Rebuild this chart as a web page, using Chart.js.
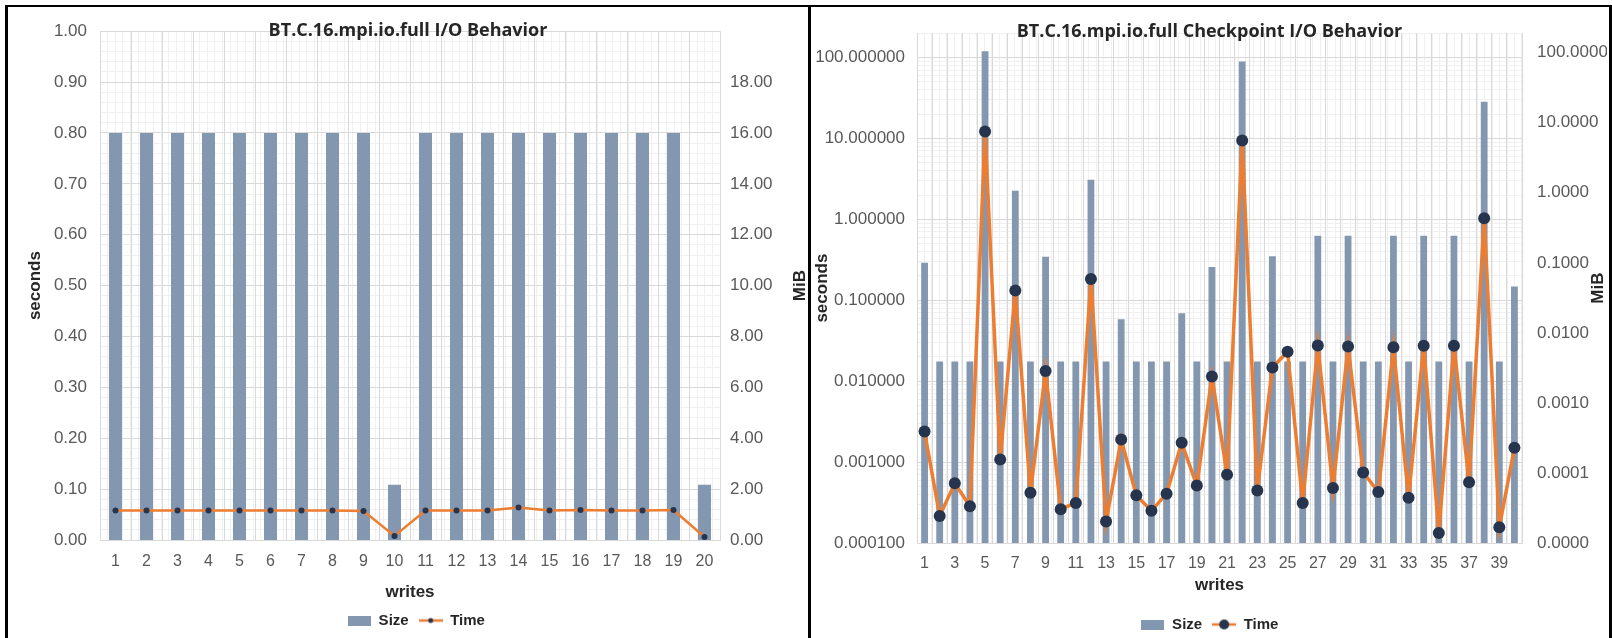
<!DOCTYPE html>
<html>
<head>
<meta charset="utf-8">
<script src="https://cdn.jsdelivr.net/npm/chart.js@4.4.1/dist/chart.umd.min.js"></script>
<style>
body { margin: 0; width: 1612px; height: 638px; overflow: hidden; background: #fff; position: relative; }
#frame { position: absolute; left: 5px; top: 5px; width: 1601px; height: 660px; border: 3px solid #000; border-top-width: 2px; }
#divider { position: absolute; left: 808px; top: 5px; width: 3px; height: 640px; background: #000; }
#c1 { position: absolute; left: 9px; top: 8px; }
#c2 { position: absolute; left: 812px; top: 8px; }
</style>
</head>
<body>
<div id="frame"></div>
<div id="divider"></div>
<canvas id="c1" width="798" height="630"></canvas>
<canvas id="c2" width="795" height="634"></canvas>
<script>

// ---------- DATA ----------

// left chart: BT.C.16.mpi.io.full I/O Behavior
const ioWrites = ["1","2","3","4","5","6","7","8","9","10","11","12","13","14","15","16","17","18","19","20"];
const ioSize = [16,16,16,16,16,16,16,16,16,2.17,16,16,16,16,16,16,16,16,16,2.17];
const ioTime = [0.058,0.058,0.058,0.058,0.058,0.058,0.058,0.058,0.057,0.008,0.058,0.058,0.058,0.064,0.058,0.059,0.058,0.058,0.059,0.006];

// right chart: BT.C.16.mpi.io.full Checkpoint I/O Behavior
const cpWrites = ["1","2","3","4","5","6","7","8","9","10","11","12","13","14","15","16","17","18","19","20",
                  "21","22","23","24","25","26","27","28","29","30","31","32","33","34","35","36","37","38","39","40"];
const cpSize = [0.1,0.0039,0.0039,0.0039,105,0.0039,1.07,0.0039,0.122,0.0039,
                0.0039,1.53,0.0039,0.0156,0.0039,0.0039,0.0039,0.019,0.0039,0.087,
                0.0039,75,0.0039,0.124,0.0039,0.0039,0.244,0.0039,0.244,0.0039,
                0.0039,0.244,0.0039,0.244,0.0039,0.244,0.0039,20,0.0039,0.046];
const cpTime = [0.00239,0.000216,0.000548,0.000285,12.2,0.00108,0.132,0.000418,0.0134,0.000262,
                0.000313,0.183,0.000184,0.0019,0.000388,0.00025,0.000407,0.00173,0.000514,0.0114,
                0.0007,9.45,0.000447,0.0148,0.0231,0.000313,0.0277,0.000477,0.0268,0.000745,
                0.000426,0.0262,0.000363,0.0275,0.000133,0.0275,0.000564,1.03,0.000157,0.0015];

const cpSecTicks = [0.0001,0.001,0.01,0.1,1,10,100];
const cpMibTicks = [0.00001,0.0001,0.001,0.01,0.1,1,10,100];


// ---------- STYLE ----------

const barColor = "#8497b0";
const lineColor = "#ed7d31";
const dotColor = "#26354d";
const gridMajor = "#d9d9d9";
const gridMinor = "#f0f0f0";
const tickColor = "#595959";
const labelColor = "#262626";
const FONT = "'Liberation Sans', Arial, sans-serif";


// legend icons (wide swatch and line with dot)
function makeSwatch(){
let c = document.createElement("canvas");
c.width = 23; c.height = 10;
let g = c.getContext("2d");
g.fillStyle = barColor;
g.fillRect(0, 0, 23, 10);
return c;
}

function makeLineIcon(r){
let c = document.createElement("canvas");
c.width = 24; c.height = 14;
let g = c.getContext("2d");
g.strokeStyle = lineColor;
g.lineWidth = 2.5;
g.beginPath(); g.moveTo(0, 7); g.lineTo(24, 7); g.stroke();
g.fillStyle = dotColor;
g.beginPath(); g.arc(12, 7, r, 0, Math.PI * 2); g.fill();
return c;
}

function legendOptions(lineIcon){
const swatch = makeSwatch();
return {
position: "bottom",
labels: {
usePointStyle: true,
pointStyleWidth: 24,
padding: 10,
color: labelColor,
font: { family: FONT, size: 15, weight: "bold" },
sort: (a, b) => a.datasetIndex - b.datasetIndex,
generateLabels(chart){
const items = Chart.defaults.plugins.legend.labels.generateLabels(chart);
items.forEach(it => { it.pointStyle = it.datasetIndex === 0 ? swatch : lineIcon; });
return items;
}
}
};
}


// chart title and rotated right-axis title drawn over the plot
const panelText = {
id: "panelText",
afterDraw(chart, args, opts){
const ctx = chart.ctx;
const area = chart.chartArea;
ctx.save();
ctx.fillStyle = labelColor;
ctx.textAlign = "center";
ctx.textBaseline = "middle";
ctx.font = "bold 18px 'Open Sans', sans-serif";
ctx.fillText(opts.title, chart.width / 2, opts.titleY);
ctx.font = "bold 17px " + FONT;
ctx.translate(opts.unitX, (area.top + area.bottom) / 2);
ctx.rotate(-Math.PI / 2);
ctx.fillText("MiB", 0, 0);
ctx.restore();
}
};

function decades(list){
return function(scale){ scale.ticks = list.map(v => ({ value: v })); };
}

function minorLog(min, max){
return function(scale){
let t = [];
for (let e = Math.floor(Math.log10(min)); e <= Math.ceil(Math.log10(max)); e++){
for (let k = 1; k < 10; k++){
let v = k * Math.pow(10, e);
if (v >= min && v <= max) t.push({ value: v });
}
}
scale.ticks = t;
};
}


// ---------- LEFT CHART ----------

new Chart(document.getElementById("c1"), {
type: "bar",
data: {
labels: ioWrites,
datasets: [
{ label: "Size", data: ioSize, yAxisID: "y2", backgroundColor: barColor,
  barPercentage: 0.42, categoryPercentage: 1, order: 2 },
{ label: "Time", type: "line", data: ioTime, yAxisID: "y", borderColor: lineColor,
  borderWidth: 2.5, pointRadius: 3, pointBackgroundColor: dotColor, pointBorderWidth: 0,
  tension: 0, order: 1 }
]
},
plugins: [panelText],
options: {
responsive: false,
animation: false,
layout: { padding: { left: 16, top: 15, right: 0, bottom: 0 } },
plugins: {
legend: legendOptions(makeLineIcon(2.5)),
tooltip: { enabled: false },
panelText: { title: "BT.C.16.mpi.io.full I/O Behavior", titleY: 23, unitX: 791 }
},
scales: {
x: {
type: "category", offset: true,
grid: { offset: true, color: gridMajor, drawTicks: false },
border: { color: gridMajor },
ticks: { color: tickColor, font: { family: FONT, size: 16 }, padding: 12, maxRotation: 0, autoSkip: false },
title: { display: true, text: "writes", color: labelColor, font: { family: FONT, size: 17, weight: "bold" }, padding: { top: 0, bottom: 0 } },
afterFit(s){ s.height = 63; }
},
xm: {
type: "linear", position: "bottom", min: -0.5, max: 19.5,
ticks: { display: false, stepSize: 0.25 },
grid: { color: gridMinor, drawTicks: false, z: -2 },
border: { display: false },
afterFit(s){ s.height = 0; }
},
y: {
type: "linear", position: "left", min: 0, max: 1,
ticks: { stepSize: 0.1, color: tickColor, font: { family: FONT, size: 17 }, padding: 13,
  callback: v => Number(v).toFixed(2) },
grid: { color: gridMajor, drawTicks: false },
border: { display: false },
title: { display: true, text: "seconds", color: labelColor, font: { family: FONT, size: 17, weight: "bold" }, padding: { top: 0, bottom: 0 } },
afterFit(s){ s.width = 75; }
},
ym: {
type: "linear", position: "left", min: 0, max: 1,
ticks: { display: false, stepSize: 0.02 },
grid: { color: gridMinor, drawTicks: false, z: -2 },
border: { display: false },
afterFit(s){ s.width = 0; }
},
y2: {
type: "linear", position: "right", min: 0, max: 20,
ticks: { stepSize: 2, color: tickColor, font: { family: FONT, size: 17 }, padding: 10,
  callback: v => v >= 20 ? "" : Number(v).toFixed(2) },
grid: { display: false, drawTicks: false },
border: { display: false },
afterFit(s){ s.width = 87; }
}
}
}
});


// ---------- RIGHT CHART ----------

new Chart(document.getElementById("c2"), {
type: "bar",
data: {
labels: cpWrites,
datasets: [
{ label: "Size", data: cpSize, yAxisID: "y2", backgroundColor: barColor,
  barPercentage: 0.45, categoryPercentage: 1, order: 2 },
{ label: "Time", type: "line", data: cpTime, yAxisID: "y", borderColor: lineColor,
  borderWidth: 3.5, pointRadius: 6, pointBackgroundColor: dotColor, pointBorderWidth: 0,
  tension: 0, order: 1 }
]
},
plugins: [panelText],
options: {
responsive: false,
animation: false,
layout: { padding: { left: 0, top: 15, right: 0, bottom: 0 } },
plugins: {
legend: legendOptions(makeLineIcon(5)),
tooltip: { enabled: false },
panelText: { title: "BT.C.16.mpi.io.full Checkpoint I/O Behavior", titleY: 24, unitX: 786 }
},
scales: {
x: {
type: "category", offset: true,
grid: { offset: true, color: gridMajor, drawTicks: false },
border: { color: gridMajor },
ticks: { color: tickColor, font: { family: FONT, size: 16 }, padding: 11, maxRotation: 0, autoSkip: false,
  callback(v, i){ return i % 2 === 0 ? this.getLabelForValue(v) : ""; } },
title: { display: true, text: "writes", color: labelColor, font: { family: FONT, size: 17, weight: "bold" }, padding: { top: 0, bottom: 11 } },
afterFit(s){ s.height = 64; }
},
xm: {
type: "linear", position: "bottom", min: -0.5, max: 39.5,
ticks: { display: false, stepSize: 0.5 },
grid: { color: gridMinor, drawTicks: false, z: -2 },
border: { display: false },
afterFit(s){ s.height = 0; }
},
y: {
type: "logarithmic", position: "left", min: 0.0001, max: 200,
afterBuildTicks: decades(cpSecTicks),
ticks: { color: tickColor, font: { family: FONT, size: 17 }, padding: 12,
  callback: v => Number(v).toFixed(6) },
grid: { color: gridMajor, drawTicks: false },
border: { display: false },
title: { display: true, text: "seconds", color: labelColor, font: { family: FONT, size: 17, weight: "bold" }, padding: { top: 0, bottom: 0 } },
afterFit(s){ s.width = 105; }
},
ym: {
type: "logarithmic", position: "left", min: 0.0001, max: 200,
afterBuildTicks: minorLog(0.0001, 200),
ticks: { display: false },
grid: { color: gridMinor, drawTicks: false, z: -2 },
border: { display: false },
afterFit(s){ s.width = 0; }
},
y2: {
type: "logarithmic", position: "right", min: 0.00001, max: 190,
afterBuildTicks: decades(cpMibTicks),
ticks: { color: tickColor, font: { family: FONT, size: 17 }, padding: 15,
  callback: v => Number(v).toFixed(4) },
grid: { display: false, drawTicks: false },
border: { display: false },
afterFit(s){ s.width = 85; }
}
}
}
});

</script>
</body>
</html>
